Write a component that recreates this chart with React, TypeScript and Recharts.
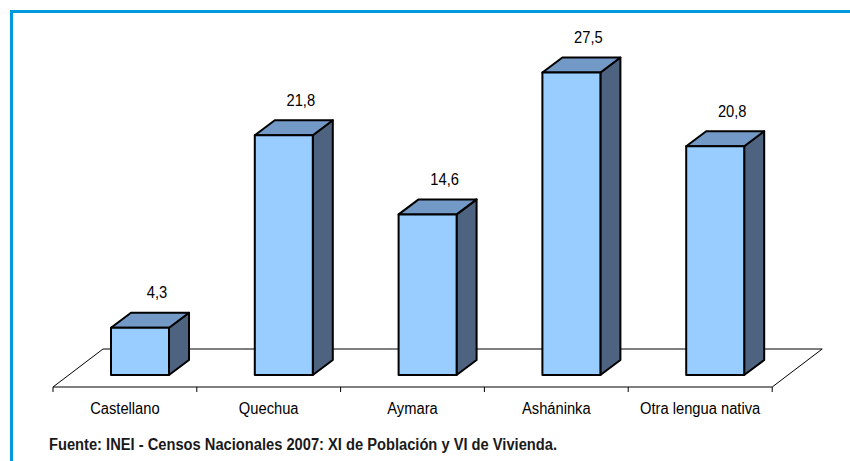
import React from "react";
import { BarChart, Bar, XAxis, YAxis, LabelList } from "recharts";

const categories = ["Castellano", "Quechua", "Aymara", "Asháninka", "Otra lengua nativa"];
const values = [4.3, 21.8, 14.6, 27.5, 20.8];
const sourceNote = "Fuente: INEI - Censos Nacionales 2007: XI de Población y VI de Vivienda.";

const data = categories.map((name, i) => ({ name, value: values[i] }));

const FONT = "'Liberation Sans', Arial, sans-serif";
const FRONT = "#99CCFF";
const TOP = "#7399C6";
const SIDE = "#4D6380";
const BAR_W = 58;
const BAR_DX = 20;
const BAR_DY = 15;
const FLOOR_DX = 50;
const FLOOR_BACK = 26;
const FLOOR_FRONT = 12;

const Bar3D = (props: any) => {
  const { x, y, width, height, index } = props;
  const base = y + height;
  const cx = x + width / 2;
  const fx = cx + FLOOR_DX / 2 - BAR_DX / 2 - BAR_W / 2;
  const last = index === data.length - 1;
  const fy = base + FLOOR_FRONT;
  const by = base - FLOOR_BACK;
  return (
    <g>
      <line x1={x + FLOOR_DX} y1={by} x2={x + width + FLOOR_DX} y2={by} stroke="#000" strokeWidth={1} />
      <line x1={x} y1={fy} x2={x + width} y2={fy} stroke="#000" strokeWidth={1} />
      <line x1={x} y1={fy} x2={x} y2={fy + 5} stroke="#000" strokeWidth={1} />
      {index === 0 && <line x1={x} y1={fy} x2={x + FLOOR_DX} y2={by} stroke="#000" strokeWidth={1} />}
      {last && <line x1={x + width} y1={fy} x2={x + width} y2={fy + 5} stroke="#000" strokeWidth={1} />}
      {last && <line x1={x + width} y1={fy} x2={x + width + FLOOR_DX} y2={by} stroke="#000" strokeWidth={1} />}
      <polygon
        points={`${fx + BAR_W},${y} ${fx + BAR_W + BAR_DX},${y - BAR_DY} ${fx + BAR_W + BAR_DX},${base - BAR_DY} ${fx + BAR_W},${base}`}
        fill={SIDE}
        stroke="#000"
        strokeWidth={2}
        strokeLinejoin="round"
      />
      <polygon
        points={`${fx},${y} ${fx + BAR_DX},${y - BAR_DY} ${fx + BAR_W + BAR_DX},${y - BAR_DY} ${fx + BAR_W},${y}`}
        fill={TOP}
        stroke="#000"
        strokeWidth={2}
        strokeLinejoin="round"
      />
      <rect x={fx} y={y} width={BAR_W} height={height} fill={FRONT} stroke="#000" strokeWidth={2} strokeLinejoin="round" />
    </g>
  );
};

const ValueLabel = (props: any) => {
  const { x, y, width, value } = props;
  const tx = x + width / 2 + 32;
  const ty = y - 35;
  return (
    <text
      transform={`translate(${tx},${ty}) scale(0.92,1)`}
      dy="0.355em"
      textAnchor="middle"
      fontFamily={FONT}
      fontSize={16}
      fill="#000"
    >
      {Number(value).toFixed(1).replace(".", ",")}
    </text>
  );
};

const CategoryTick = (props: any) => {
  const { x, y, payload } = props;
  return (
    <text
      transform={`translate(${x},${y + 33}) scale(0.92,1)`}
      dy="0.355em"
      textAnchor="middle"
      fontFamily={FONT}
      fontSize={16}
      fill="#000"
    >
      {payload.value}
    </text>
  );
};

export default function App() {
  return (
    <div style={{ position: "absolute", left: 0, top: 0, width: 850, height: 461, background: "#fff", overflow: "hidden" }}>
      <div
        style={{
          position: "absolute",
          left: 10,
          top: 10,
          width: 850,
          height: 461,
          borderTop: "3px solid #0099DD",
          borderLeft: "3px solid #0099DD",
        }}
      />
      <div style={{ position: "absolute", left: 0, top: 0 }}>
        <BarChart width={850} height={461} data={data} margin={{ top: 45, right: 78, bottom: 56, left: 53 }} barCategoryGap={0} barGap={0}>
          <XAxis
            dataKey="name"
            height={30}
            axisLine={false}
            tickLine={false}
            tickSize={0}
            tickMargin={0}
            interval={0}
            tick={<CategoryTick />}
          />
          <YAxis hide domain={[0, 30]} />
          <Bar dataKey="value" shape={<Bar3D />} isAnimationActive={false}>
            <LabelList dataKey="value" content={<ValueLabel />} />
          </Bar>
        </BarChart>
      </div>
      <svg width={850} height={461} style={{ position: "absolute", left: 0, top: 0, pointerEvents: "none" }}>
        <text x={49} y={450} fontFamily={FONT} fontWeight="bold" fontSize={16} fill="#1a1a1a" textLength={508} lengthAdjust="spacingAndGlyphs">
          {sourceNote}
        </text>
      </svg>
    </div>
  );
}
